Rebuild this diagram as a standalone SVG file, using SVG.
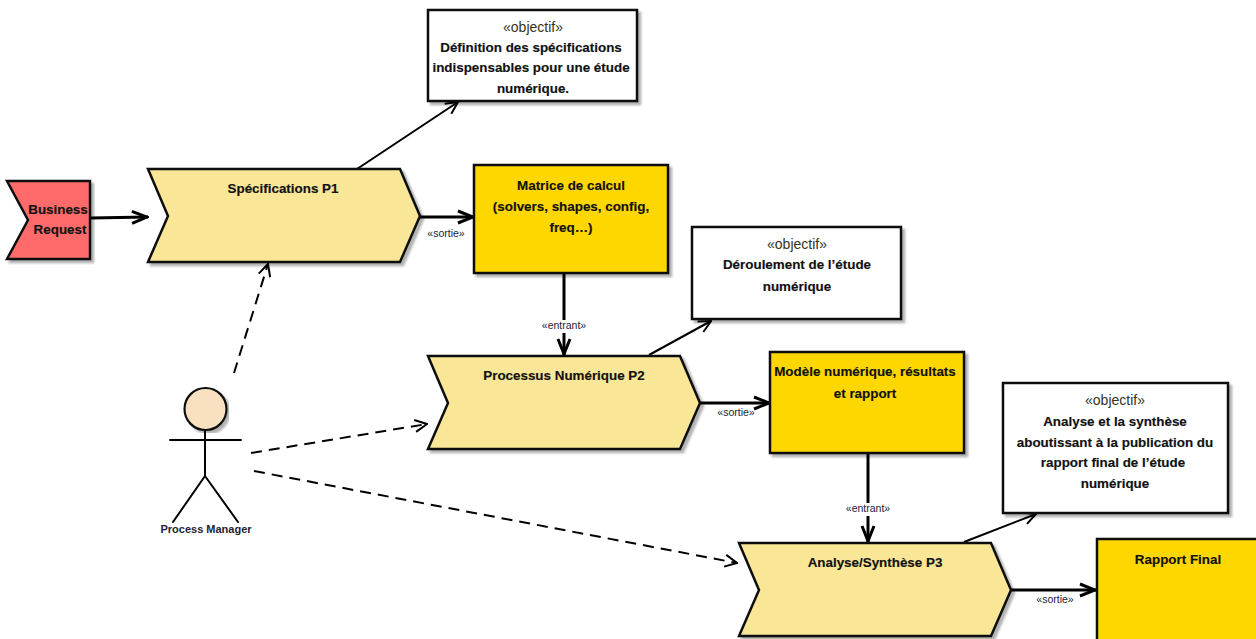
<svg xmlns="http://www.w3.org/2000/svg" width="1256" height="639" viewBox="0 0 1256 639">
<style>
text{font-family:"Liberation Sans",Arial,sans-serif;text-anchor:middle;fill:#111}
.b{font-weight:bold;font-size:13.400px;stroke:#111;stroke-width:.15px}
.s{font-size:14px;fill:#332}
.t{font-size:10.500px;fill:#223}
.shape{stroke:#111;stroke-width:2.5;stroke-linejoin:miter}
.proc{fill:#f9e696}
.art{fill:#ffd700}
.note{fill:#fff}
.line{fill:none;stroke:#000}
.w3{stroke-width:3}
.w2{stroke-width:2}
.dash{stroke-dasharray:11 7;stroke-width:2}
</style>
<defs>
<marker id="a" viewBox="0 0 14 14" refX="13" refY="7" markerWidth="14" markerHeight="14" markerUnits="userSpaceOnUse" orient="auto"><path d="M1 1L13 7L1 13" fill="none" stroke="#000" stroke-width="2"/></marker>
<marker id="a3" viewBox="0 0 18 16" refX="17" refY="8" markerWidth="18" markerHeight="16" markerUnits="userSpaceOnUse" orient="auto"><path d="M1 2L16 8L1 14" fill="none" stroke="#000" stroke-width="3"/></marker>
<filter id="sh" x="-5%" y="-5%" width="110%" height="112%"><feDropShadow dx="3" dy="3" stdDeviation="1.2" flood-color="#000" flood-opacity=".3"/></filter>
</defs>
<g id="connectors">
<path class="line w3" marker-end="url(#a3)" d="M91 218L148 217"/>
<path class="line w2" marker-end="url(#a)" d="M357 169L458 102"/>
<path class="line w3" marker-end="url(#a3)" d="M420 217L474 217"/>
<path class="line w3" marker-end="url(#a3)" d="M564 273L564 355"/>
<path class="line w2" marker-end="url(#a)" d="M649 355L711 321"/>
<path class="line w3" marker-end="url(#a3)" d="M700 403L770 403"/>
<path class="line w3" marker-end="url(#a3)" d="M868 454L868 542"/>
<path class="line w2" marker-end="url(#a)" d="M964 542L1036 514"/>
<path class="line w3" marker-end="url(#a3)" d="M1011 590L1096 590"/>
<path class="line dash" marker-end="url(#a)" d="M234 373L268 264"/>
<path class="line dash" marker-end="url(#a)" d="M251 453L427 424"/>
<path class="line dash" marker-end="url(#a)" d="M254 471L737 563"/>
</g>
<g id="business-request">
<path class="shape" filter="url(#sh)" fill="#ff6b6b" d="M7 181H90V259H7L28 220Z"/>
<text class="b" x="58" y="214">Business</text><text class="b" x="60" y="234">Request</text>
</g>
<g id="p1">
<path class="shape proc" filter="url(#sh)" d="M148 169H400L420 216L400 262H148L168 216Z"/>
<text class="b" x="283" y="193">Spécifications P1</text>
</g>
<g id="objectif1">
<rect class="shape note" filter="url(#sh)" x="428" y="10" width="209" height="91"/>
<text class="s" x="533" y="32">«objectif»</text>
<text class="b" x="531" y="52">Définition des spécifications</text>
<text class="b" x="531" y="72">indispensables pour une étude</text>
<text class="b" x="533" y="93">numérique.</text>
</g>
<g id="matrice">
<rect class="shape art" filter="url(#sh)" x="474" y="165" width="194" height="108"/>
<text class="b" x="571" y="190">Matrice de calcul</text>
<text class="b" x="571" y="211">(solvers, shapes, config,</text>
<text class="b" x="571" y="232">freq…)</text>
</g>
<text class="t" x="446" y="237">«sortie»</text>
<g id="objectif2">
<rect class="shape note" filter="url(#sh)" x="692" y="227" width="209" height="92"/>
<text class="s" x="797" y="249">«objectif»</text>
<text class="b" x="797" y="269">Déroulement de l’étude</text>
<text class="b" x="797" y="291">numérique</text>
</g>
<rect x="541" y="320" width="46" height="13" fill="#fff"/>
<text class="t" x="564" y="329">«entrant»</text>
<g id="p2">
<path class="shape proc" filter="url(#sh)" d="M428 356H680L700 403L680 449H428L448 403Z"/>
<text class="b" x="564" y="380">Processus Numérique P2</text>
</g>
<g id="modele">
<rect class="shape art" filter="url(#sh)" x="770" y="352" width="194" height="101"/>
<text class="b" x="865" y="376">Modèle numérique, résultats</text>
<text class="b" x="865" y="398">et rapport</text>
</g>
<text class="t" x="736" y="416">«sortie»</text>
<g id="objectif3">
<rect class="shape note" filter="url(#sh)" x="1003" y="383" width="225" height="130"/>
<text class="s" x="1115" y="405">«objectif»</text>
<text class="b" x="1115" y="426">Analyse et la synthèse</text>
<text class="b" x="1115" y="447">aboutissant à la publication du</text>
<text class="b" x="1113" y="467">rapport final de l’étude</text>
<text class="b" x="1115" y="488">numérique</text>
</g>
<rect x="845" y="503" width="46" height="13" fill="#fff"/>
<text class="t" x="868" y="512">«entrant»</text>
<g id="p3">
<path class="shape proc" filter="url(#sh)" d="M739 543H991L1011 590L991 636H739L759 590Z"/>
<text class="b" x="875" y="567">Analyse/Synthèse P3</text>
</g>
<g id="rapport">
<rect class="shape art" filter="url(#sh)" x="1097" y="539" width="162" height="104"/>
<text class="b" x="1178" y="564">Rapport Final</text>
</g>
<text class="t" x="1055" y="603">«sortie»</text>
<g id="process-manager">
<circle cx="205.500" cy="409" r="21" fill="#f9e0c0" stroke="#111" stroke-width="2.200" filter="url(#sh)"/>
<path class="line w2" stroke-linecap="round" d="M170 440H241M205 430V476M205 476L173 522M205 476L238 522"/>
<text class="t" x="206" y="533" font-weight="bold" style="font-size:11px">Process Manager</text>
</g>
</svg>
